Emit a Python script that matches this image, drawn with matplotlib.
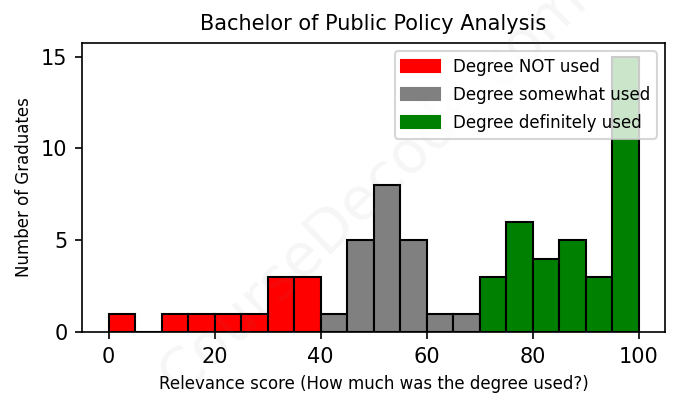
import numpy as np
import matplotlib.pyplot as plt
import matplotlib.patches as mpatches

# bins of 5 points on the relevance score
edges = np.arange(0, 105, 5)

not_used = [1, 0, 1, 1, 1, 1, 3, 3]          # 0 - 40
somewhat_used = [1, 5, 8, 5, 1, 1]           # 40 - 70
definitely_used = [3, 6, 4, 5, 3, 15]        # 70 - 100

labels = ['Degree NOT used', 'Degree somewhat used', 'Degree definitely used']
colors = ['red', 'gray', 'green']

left = edges[:-1]
n1 = len(not_used)
n2 = n1 + len(somewhat_used)

fig, ax = plt.subplots(figsize=(678 / 150, 408 / 150), dpi=150)

ax.hist(left[:n1], bins=edges[:n1 + 1], weights=not_used,
        color=colors[0], edgecolor='black')
ax.hist(left[n1:n2], bins=edges[n1:n2 + 1], weights=somewhat_used,
        color=colors[1], edgecolor='black')
ax.hist(left[n2:], bins=edges[n2:], weights=definitely_used,
        color=colors[2], edgecolor='black')

ax.set_title('Bachelor of Public Policy Analysis', fontsize=10)
ax.set_xlabel('Relevance score (How much was the degree used?)', fontsize=8)
ax.set_ylabel('Number of Graduates', fontsize=8)

handles = [mpatches.Patch(color=c, label=l) for c, l in zip(colors, labels)]
ax.legend(handles=handles, loc='upper right', fontsize=8,
          handlelength=2.3, handleheight=0.8, labelspacing=0.6)

# watermark
ax.text(0.5, 0.5, 'CourseDecode.com', transform=ax.transAxes, fontsize=28,
        color='gray', alpha=0.07, rotation=44, ha='center', va='center')

plt.subplots_adjust(left=0.121, right=0.981, top=0.895, bottom=0.186)
plt.savefig('out.png', dpi=150)
